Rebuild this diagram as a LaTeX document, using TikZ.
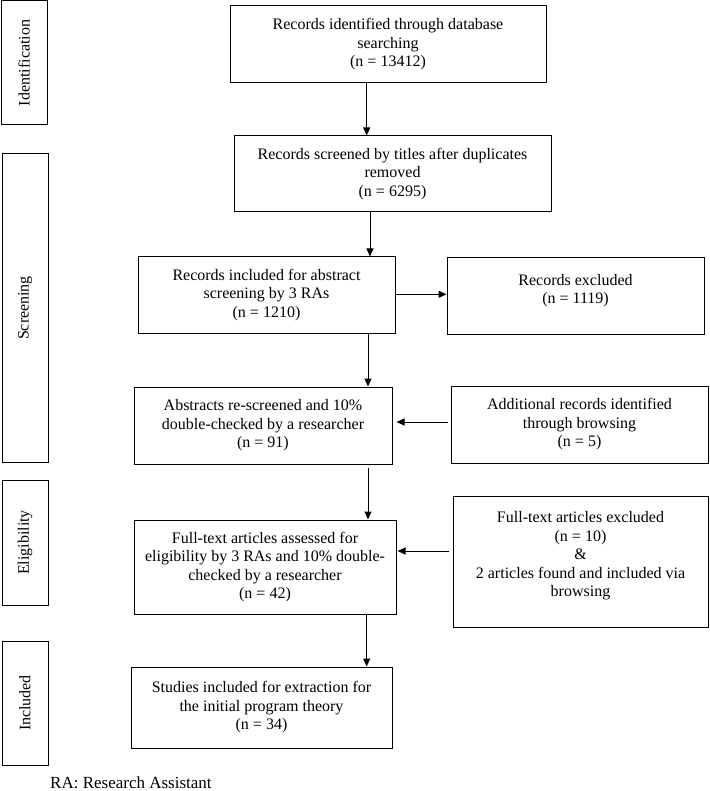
\documentclass[tikz,border=0pt]{standalone}
\usepackage{fontspec}
\setmainfont{Liberation Serif}
\usetikzlibrary{arrows.meta}
\begin{document}
\begin{tikzpicture}[x=1pt,y=-1pt,
  txt/.style={font=\fontsize{16}{18.5}\selectfont},
  box/.style={draw, line width=1pt, align=center, inner sep=0pt, txt},
  side/.style={draw, line width=1pt, rotate=90, inner sep=0pt, txt},
  arr/.style={-{Triangle[length=8pt,width=7pt]}, line width=1pt}]
\useasboundingbox (0,0) rectangle (709,791);
% stage labels
\node[side, minimum width=124pt, minimum height=46pt] (sid) at (24,63) {Identification};
\node[side, minimum width=308pt, minimum height=46pt] (sscr) at (25,308) {Screening};
\node[side, minimum width=125pt, minimum height=46pt] (seli) at (25,542.5) {Eligibility};
\node[side, minimum width=124pt, minimum height=46pt] (sinc) at (25,703) {Included};
% main boxes
\node[box, minimum width=316pt, minimum height=77pt] (b1) at (388,44.5)
  {Records identified through database\\searching\\(n = 13412)};
\node[box, minimum width=317pt, minimum height=76pt] (b2) at (392.5,174)
  {Records screened by titles after duplicates\\removed\\(n = 6295)};
\node[box, minimum width=257pt, minimum height=76pt] (b3) at (266.5,295)
  {Records included for abstract\\screening by 3 RAs\\(n = 1210)};
\node[box, minimum width=257pt, minimum height=76pt] (ex1) at (575.5,296)
  {Records excluded\\(n = 1119)\\[-4pt]\mbox{}};
\node[box, minimum width=258pt, minimum height=77pt] (b4) at (263,425.5)
  {Abstracts re-screened and 10\%\\double-checked by a researcher\\(n = 91)};
\node[box, minimum width=257pt, minimum height=77pt] (add) at (579.5,424.5)
  {Additional records identified\\through browsing\\(n = 5)};
\node[box, minimum width=262pt, minimum height=94pt] (b5) at (265,567)
  {Full-text articles assessed for\\eligibility by 3 RAs and 10\% double-\\checked by a researcher\\(n = 42)};
\node[box, minimum width=255pt, minimum height=131pt] (ex2) at (580.5,561.5)
  {Full-text articles excluded\\(n = 10)\\\&\\2 articles found and included via\\browsing\\[-4pt]\mbox{}};
\node[box, minimum width=261pt, minimum height=81pt] (b6) at (261.5,707.5)
  {Studies included for extraction for\\the initial program theory\\(n = 34)};
% footnote
\node[anchor=base west, inner sep=0pt, font=\fontsize{17}{20}\selectfont] (note) at (50,788) {RA: Research Assistant};
% helper coordinates
\coordinate (xa) at (366.7,0);
\coordinate (xb) at (370,0);
\coordinate (xc) at (368,0);
\coordinate (ya) at (0,294.3);
\coordinate (yb) at (0,422);
\coordinate (yc) at (0,551);
% connectors
\draw[arr] (b1.south -| xa) -- (b2.north -| xa);
\draw[arr] (b2.south -| xb) -- (b3.north -| xb);
\draw[arr] (b3.east |- ya) -- (ex1.west |- ya);
\draw[arr] (b3.south -| xc) -- (b4.north -| xc);
\draw[arr, shorten <=3pt, shorten >=4pt] (add.west |- yb) -- (b4.east |- yb);
\draw[arr, shorten <=3pt] (b4.south -| xc) -- (b5.north -| xc);
\draw[arr, shorten <=4pt, shorten >=1pt] (ex2.west |- yc) -- (b5.east |- yc);
\draw[arr] (b5.south -| xa) -- (b6.north -| xa);
\end{tikzpicture}
\end{document}
